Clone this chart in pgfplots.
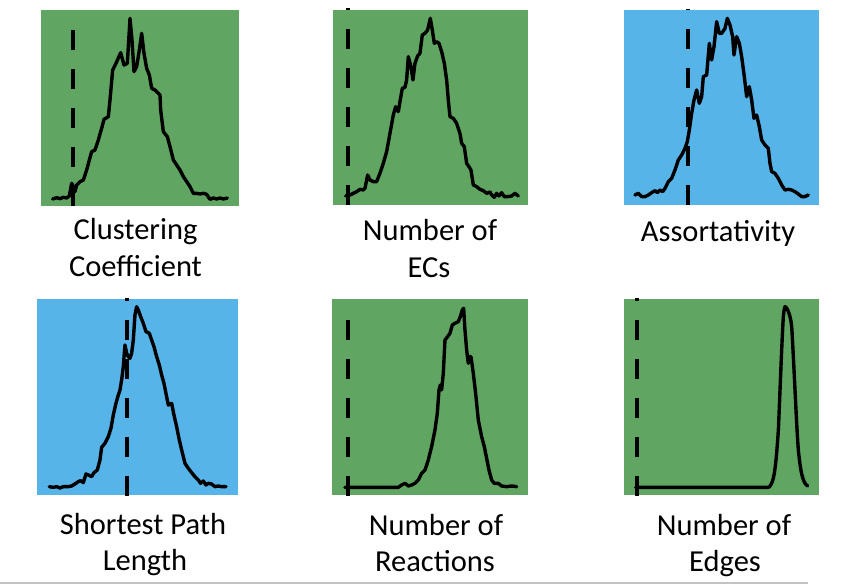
\documentclass[border=0pt]{standalone}
\usepackage{pgfplots}
\pgfplotsset{compat=1.18}
\usepackage{fontspec}
\setmainfont{Carlito}
\definecolor{pgreen}{RGB}{96,166,98}
\definecolor{pblue}{RGB}{86,180,232}
\definecolor{rule}{RGB}{195,195,195}
\pgfplotsset{
  panel/.style={
    scale only axis, anchor=south west, clip=false,
    axis lines=none, xtick=\empty, ytick=\empty,
    y dir=reverse,
  },
  curve/.style={black, line width=3.4bp, line join=round, line cap=round, no markers},
  dline/.style={black, line width=4.2bp, dash pattern=on 20bp off 19bp, no markers},
}
\begin{document}
\begin{tikzpicture}[x=1bp,y=1bp]
\useasboundingbox (0,0) rectangle (863,586);
\fill[pgreen] (41,380) rectangle (239,576);
\fill[pgreen] (333.3,381) rectangle (528.3,576);
\fill[pblue] (624,381) rectangle (819.3,576);
\fill[pblue] (37.3,91) rectangle (238.3,286.7);
\fill[pgreen] (332.3,91) rectangle (528.3,286.7);
\fill[pgreen] (624.3,91) rectangle (819,286.7);

% Panel 1: Clustering Coefficient
\begin{axis}[panel, at={(41bp,380bp)}, width=198bp, height=196bp,
  xmin=33, xmax=627, ymin=30, ymax=618]
\addplot[dline] coordinates {(130,618) (130,90)};
\addplot[curve] coordinates {(68,597)(80,593)(90,596)(100,592)(110,594)(118,588)(125,550)(130,560)(135,575)(140,555)(150,545)(160,540)(170,510)(178,480)(185,455)(195,450)(205,420)(215,385)(222,358)(235,350)(240,300)(248,210)(258,190)(272,158)(282,195)(292,190)(300,55)(306,120)(312,215)(320,200)(328,150)(335,100)(342,160)(350,205)(358,225)(365,265)(375,270)(390,285)(392,330)(400,395)(412,410)(420,440)(430,480)(440,495)(450,510)(460,530)(470,545)(480,560)(490,580)(500,580)(510,582)(520,580)(530,583)(540,598)(550,594)(560,597)(570,594)(580,597)(592,594)};
\end{axis}

% Panel 2: Number of ECs
\begin{axis}[panel, at={(333.3bp,381bp)}, width=195bp, height=195bp,
  xmin=25, xmax=610, ymin=30, ymax=615]
\addplot[dline] coordinates {(70,615) (70,25)};
\addplot[curve] coordinates {(62,588)(75,585)(85,580)(95,575)(105,568)(115,570)(120,565)(128,525)(135,540)(145,545)(155,545)(165,520)(175,490)(185,455)(195,400)(205,345)(212,320)(220,335)(225,305)(232,265)(240,262)(245,240)(250,170)(258,200)(264,240)(270,190)(278,168)(285,160)(292,105)(300,100)(308,90)(316,55)(322,90)(328,130)(335,125)(342,130)(350,155)(358,190)(365,240)(370,300)(375,350)(385,355)(395,370)(405,400)(410,430)(418,440)(425,490)(432,500)(438,510)(445,555)(455,560)(465,568)(475,572)(485,580)(495,576)(500,585)(508,592)(515,580)(522,588)(530,578)(538,590)(548,590)(560,588)(570,580)(580,588)};
\end{axis}

% Panel 3: Assortativity
\begin{axis}[panel, at={(624bp,381bp)}, width=195.3bp, height=195bp,
  xmin=42, xmax=628, ymin=30, ymax=615]
\addplot[dline] coordinates {(233,615) (233,28)};
\addplot[curve] coordinates {(75,585)(85,580)(95,590)(105,590)(115,585)(125,578)(135,572)(142,578)(150,570)(158,575)(165,565)(175,545)(185,535)(195,510)(205,480)(215,465)(225,445)(232,425)(238,390)(245,340)(252,300)(260,270)(268,310)(275,290)(280,230)(290,225)(298,130)(305,180)(312,140)(320,65)(328,100)(335,100)(345,85)(352,55)(360,75)(368,110)(372,165)(380,110)(388,130)(395,170)(403,230)(410,290)(418,260)(425,300)(432,355)(440,345)(448,380)(455,420)(465,435)(475,445)(480,490)(485,515)(495,520)(505,535)(515,555)(525,570)(535,568)(545,570)(555,575)(565,582)(575,590)(585,590)(595,585)};
\end{axis}

% Panel 4: Shortest Path Length
\begin{axis}[panel, at={(37.3bp,91bp)}, width=201bp, height=195.7bp,
  xmin=22, xmax=625, ymin=28, ymax=615]
\addplot[dline] coordinates {(292,618) (292,25)};
\addplot[curve] coordinates {(58,590)(70,592)(80,590)(90,594)(100,590)(115,590)(125,588)(135,582)(145,575)(152,572)(160,578)(168,552)(175,555)(185,560)(192,548)(202,540)(210,510)(215,472)(225,460)(235,440)(243,415)(250,375)(258,340)(265,315)(270,300)(275,270)(280,230)(285,165)(290,190)(295,200)(300,205)(305,190)(310,150)(315,75)(320,50)(325,60)(332,80)(340,100)(348,125)(358,130)(365,150)(372,170)(380,200)(388,225)(395,255)(402,280)(408,310)(415,345)(425,340)(432,375)(440,410)(448,450)(455,480)(465,520)(475,535)(485,548)(495,560)(505,570)(512,580)(520,573)(528,585)(535,580)(545,582)(555,590)(565,588)(575,590)(588,590)};
\end{axis}

% Panel 5: Number of Reactions
\begin{axis}[panel, at={(332.3bp,91bp)}, width=196bp, height=195.7bp,
  xmin=22, xmax=610, ymin=28, ymax=615]
\addplot[dline] coordinates {(68,617) (68,88)};
\addplot[curve] coordinates {(60,592)(70,592)(100,592)(150,592)(200,592)(220,592)(230,585)(240,580)(250,588)(260,585)(270,580)(280,570)(290,550)(300,540)(310,510)(320,470)(330,420)(337,370)(342,300)(346,285)(350,300)(355,250)(360,150)(368,140)(375,130)(382,105)(390,100)(400,95)(406,80)(412,60)(416,55)(420,120)(425,180)(430,220)(433,200)(438,200)(445,250)(452,310)(460,390)(470,440)(478,470)(486,510)(492,540)(500,570)(508,580)(520,580)(530,588)(545,590)(560,588)(575,590)};
\end{axis}

% Panel 6: Number of Edges
\begin{axis}[panel, at={(624.3bp,91bp)}, width=194.7bp, height=195.7bp,
  xmin=28, xmax=612, ymin=28, ymax=615]
\addplot[dline] coordinates {(67,618) (67,25)};
\addplot[curve, smooth, tension=0.4] coordinates {(62,592)(200,592)(400,592)(458,592)(465,588)(472,575)(478,550)(484,500)(490,420)(495,300)(500,180)(505,80)(510,50)(518,60)(525,80)(530,110)(535,200)(540,300)(545,400)(550,480)(556,530)(562,560)(570,580)(578,588)};
\end{axis}

\begin{scope}[every node/.style={anchor=base, inner sep=0pt, font=\fontsize{30.5bp}{36bp}\selectfont}]
\node at (135.5,346) {Clustering};
\node at (135.5,309) {Coefficient};
\node at (430,345) {Number of};
\node at (429,308) {ECs};
\node at (718,344) {Assortativity};
\node at (143,51) {Shortest Path};
\node at (145,15) {Length};
\node at (436,50) {Number of};
\node at (435,14) {Reactions};
\node at (724,50) {Number of};
\node at (725,14) {Edges};
\end{scope}
\draw[rule, line width=1.5bp] (0,3) -- (808,3);
\end{tikzpicture}
\end{document}
